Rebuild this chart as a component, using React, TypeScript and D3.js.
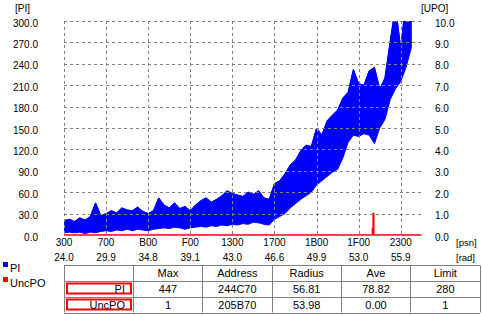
import React from "react";
import * as d3 from "d3";

// ---- data ----
const psnTicks = [0x300, 0x700, 0xb00, 0xf00, 0x1300, 0x1700, 0x1b00, 0x1f00, 0x2300];
const psnLabels = ["300", "700", "B00", "F00", "1300", "1700", "1B00", "1F00", "2300"];
const radLabels = ["24.0", "29.9", "34.8", "39.1", "43.0", "46.6", "49.9", "53.0", "55.9"];
const piTicks = [0, 30, 60, 90, 120, 150, 180, 210, 240, 270, 300];
const upoTicks = [0, 1, 2, 3, 4, 5, 6, 7, 8, 9, 10];

const piStart = 0x300;
const piStep = 0x80;
const piHigh = [20, 22, 19, 24, 21, 26, 45, 27, 30, 34, 31, 38, 35, 34, 39, 33, 30, 34, 52, 42, 38, 45, 37, 40, 34, 42, 48, 52, 46, 50, 55, 62, 58, 56, 54, 60, 57, 62, 52, 50, 72, 76, 86, 98, 105, 118, 126, 124, 150, 140, 160, 168, 175, 192, 200, 232, 212, 210, 230, 235, 205, 220, 272, 320, 262, 330, 340];
const piLow = [3, 4, 3, 4, 2, 4, 3, 5, 6, 5, 7, 6, 8, 6, 8, 7, 6, 8, 9, 10, 9, 11, 10, 8, 10, 11, 12, 11, 13, 12, 14, 13, 15, 14, 16, 15, 18, 17, 15, 14, 22, 26, 30, 38, 44, 50, 55, 60, 70, 76, 82, 88, 92, 108, 130, 140, 138, 142, 140, 128, 150, 162, 190, 205, 215, 235, 262];

const upoPsn = [0x300, 0x2050, 0x2060, 0x2070, 0x2500];
const upoVal = [0, 0.3, 1.0, 0, 0];

const tableHeader = ["", "Max", "Address", "Radius", "Ave", "Limit"];
const tableRows = [
  ["PI", "447", "244C70", "56.81", "78.82", "280"],
  ["UncPO", "1", "205B70", "53.98", "0.00", "1"],
];
const legendItems = [
  { name: "PI", color: "#0000ff" },
  { name: "UncPO", color: "#ff0000" },
];

// ---- layout ----
const W = 482, H = 316;
const L = 64, R = 421.8, T = 21, B = 235;
const font = "'Liberation Sans', Arial, sans-serif";

export default function App() {
  const x = d3.scaleLinear().domain([0x300, 0x2500]).range([L, R]);
  const yPI = d3.scaleLinear().domain([0, 300]).range([B, T]);
  const yUPO = d3.scaleLinear().domain([0, 10]).range([B, T]);

  const piIdx = piHigh.map((_, i) => i);
  const area = d3
    .area<number>()
    .x((i) => x(piStart + i * piStep))
    .y0((i) => yPI(piLow[i]))
    .y1((i) => yPI(piHigh[i]));
  const hiLine = d3
    .line<number>()
    .x((i) => x(piStart + i * piStep))
    .y((i) => yPI(piHigh[i]));
  const upoLine = d3
    .line<number>()
    .x((i) => x(upoPsn[i]))
    .y((i) => yUPO(upoVal[i]))
    .curve(d3.curveStepAfter);

  const colX = d3.range(7).map((i) => 64 + (i * (480 - 64)) / 6);
  const rowY = [265.5, 281, 297, 313];

  return (
    <svg
      width={W}
      height={H}
      style={{ position: "absolute", left: 0, top: 0, background: "#fff" }}
      fontFamily={font}
      fontSize={11}
    >
      <rect x={0} y={0} width={W} height={H} fill="#fff" />
      <defs>
        <clipPath id="plot">
          <rect x={L} y={T} width={R - L} height={B - T + 1} />
        </clipPath>
      </defs>
      <g clipPath="url(#plot)">
        <path d={area(piIdx) || ""} fill="#0000ff" stroke="#0000ff" strokeWidth={1} />
        <path d={hiLine(piIdx) || ""} fill="none" stroke="#0000ff" strokeWidth={1} />
        <path d={upoLine(upoPsn.map((_, i) => i)) || ""} fill="none" stroke="#ff0000" strokeWidth={1.5} />
      </g>
      {/* grid */}
      <g stroke="#808080" strokeDasharray="3,3" strokeWidth={1}>
        {piTicks.map((v) => (
          <line key={"h" + v} x1={L} x2={R} y1={Math.round(yPI(v)) + 0.5} y2={Math.round(yPI(v)) + 0.5} />
        ))}
        {psnTicks.map((v) => (
          <line key={"v" + v} x1={Math.round(x(v)) + 0.5} x2={Math.round(x(v)) + 0.5} y1={T} y2={B} />
        ))}
      </g>
      {/* left axis */}
      <g fontSize={10} fill="#000">
        <text x={15} y={12}>[PI]</text>
        {piTicks.map((v) => (
          <text key={"l" + v} x={38} y={yPI(v) + 5.5} textAnchor="end">
            {v.toFixed(1)}
          </text>
        ))}
        {/* right axis */}
        <text x={421} y={12}>[UPO]</text>
        {upoTicks.map((v) => (
          <text key={"r" + v} x={435} y={yUPO(v) + 5.5} textAnchor="start">
            {v.toFixed(1)}
          </text>
        ))}
        {/* bottom axis */}
        {psnTicks.map((v, i) => (
          <g key={"b" + v}>
            <text x={x(v)} y={245.5} textAnchor="middle">{psnLabels[i]}</text>
            <text x={x(v)} y={260.5} textAnchor="middle">{radLabels[i]}</text>
          </g>
        ))}
        <text x={456} y={245.5} fontSize={9.5}>[psn]</text>
        <text x={456} y={260.5} fontSize={9.5}>[rad]</text>
      </g>
      {/* legend */}
      {legendItems.map((it, i) => (
        <g key={it.name}>
          <rect x={3} y={262 + i * 15} width={5} height={5} fill={it.color} />
          <text x={10} y={272 + i * 15} fill="#000">{it.name}</text>
        </g>
      ))}
      {/* table */}
      <g stroke="#808080" strokeWidth={1}>
        {rowY.map((y, i) => (
          <line key={"tr" + i} x1={64} x2={480} y1={Math.floor(y) + 0.5} y2={Math.floor(y) + 0.5} />
        ))}
        {colX.map((cx, i) => (
          <line key={"tc" + i} x1={Math.floor(cx) + 0.5} x2={Math.floor(cx) + 0.5} y1={265.5} y2={312.5} />
        ))}
      </g>
      {tableHeader.map((h, j) => (
        <text key={"th" + j} x={(colX[j] + colX[j + 1]) / 2} y={277} textAnchor="middle" fill="#000">{h}</text>
      ))}
      {tableRows.map((row, r) => (
        <g key={"row" + r}>
          <rect x={67} y={rowY[r + 1] + 2.5} width={64} height={10} fill="none" stroke="#ff0000" strokeWidth={2} />
          {row.map((c, j) =>
            j === 0 ? (
              <text key={j} x={125} y={rowY[r + 1] + 11.5} textAnchor="end" fill="#000">{c}</text>
            ) : (
              <text key={j} x={(colX[j] + colX[j + 1]) / 2} y={rowY[r + 1] + 11.5} textAnchor="middle" fill="#000">{c}</text>
            )
          )}
        </g>
      ))}
    </svg>
  );
}
